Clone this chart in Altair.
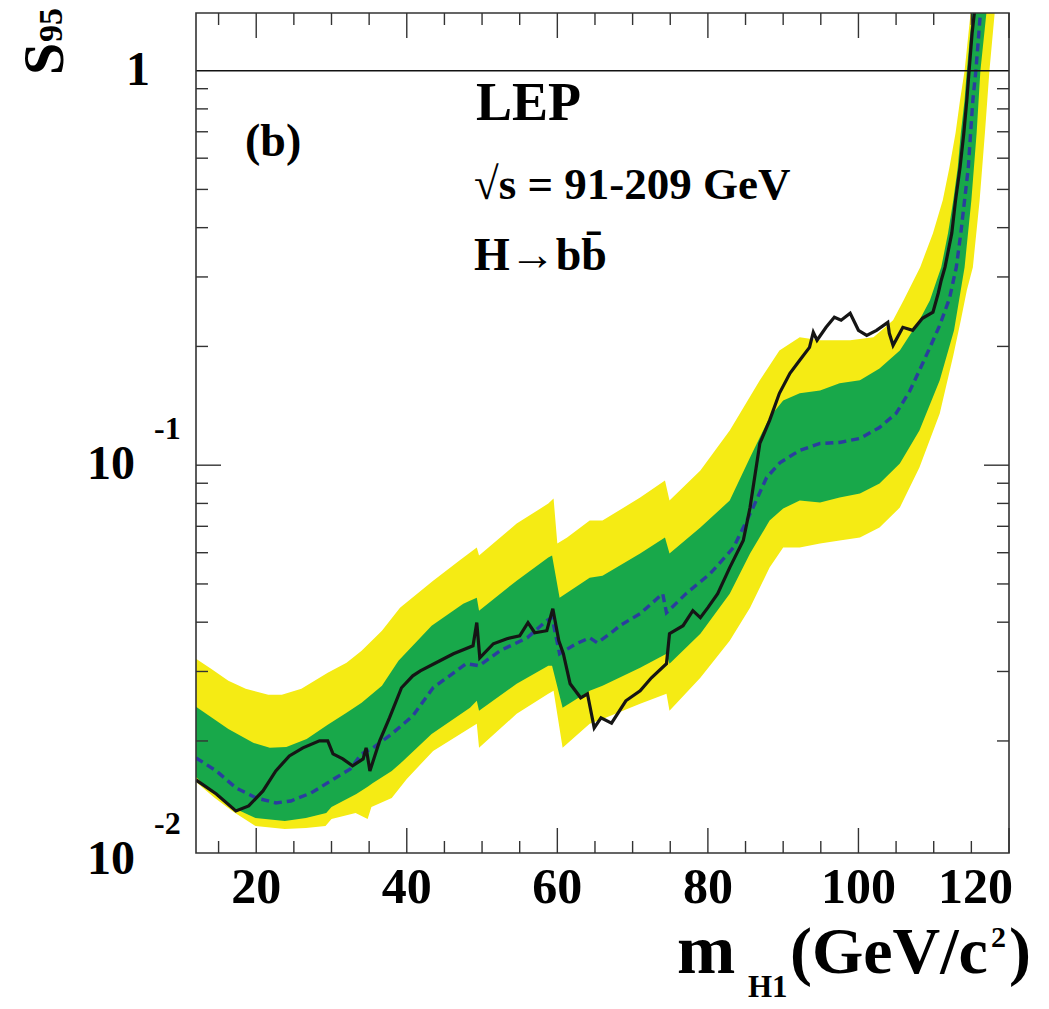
import altair as alt
import pandas as pd

# ---------------- data ----------------
# observed limit (black line)
obs_m = [12.0, 14.7, 17.3, 19.0, 20.9, 22.6, 24.4, 26.2, 28.4, 29.5, 30.2, 31.5, 32.8, 34.2, 34.6, 35.1,
         36.4, 37.7, 39.3, 40.8, 41.8, 44.4, 46.2, 48.8, 49.3, 49.7, 51.5, 53.3, 55.0, 56.1, 57.0, 58.6,
         59.4, 60.2, 60.8, 61.7, 63.1, 64.0, 64.9, 65.8, 67.2, 69.1, 71.0, 72.5, 74.5, 74.9, 76.7, 78.0,
         79.0, 80.0, 81.3, 82.9, 84.7, 85.6, 86.9, 88.2, 89.5, 90.9, 92.2, 93.5, 94.0, 94.5, 95.7, 96.8,
         97.7, 98.9, 100.0, 101.1, 102.4, 103.9, 104.1, 104.6, 105.9, 107.2, 108.5, 109.9, 110.6, 111.0,
         111.5, 112.4, 112.9, 113.5, 114.0, 114.4, 114.7, 115.1, 115.4, 115.6]
obs_s = [0.01593, 0.01468, 0.01329, 0.01369, 0.01494, 0.01679, 0.01833, 0.01921, 0.02001, 0.02001,
         0.01855, 0.01801, 0.01729, 0.01801, 0.01921, 0.01679, 0.02001, 0.02288, 0.02728, 0.02925,
         0.03012, 0.03193, 0.03327, 0.03486, 0.0399, 0.0325, 0.03527, 0.03632, 0.03696, 0.0399, 0.03761,
         0.03806, 0.04328, 0.0359, 0.03327, 0.02792, 0.02573, 0.02634, 0.02159, 0.02288, 0.0222, 0.02528,
         0.0268, 0.02892, 0.0314, 0.03739, 0.03919, 0.04278, 0.04107, 0.04354, 0.04725, 0.055, 0.0644,
         0.07808, 0.1135, 0.1299, 0.1521, 0.1709, 0.1844, 0.1989, 0.2172, 0.2073, 0.2236, 0.2371, 0.2330,
         0.2427, 0.2197, 0.2134, 0.2197, 0.2302, 0.2159, 0.2013, 0.2236, 0.2197, 0.2357, 0.2442, 0.2728,
         0.2943, 0.3176, 0.3874, 0.4696, 0.5695, 0.6948, 0.8425, 1.0, 1.246, 1.401, 1.6]

# expected median (blue dashed)
med_m = [12.0, 14.7, 17.3, 20.0, 22.6, 24.6, 27.3, 29.9, 32.5, 34.0, 35.5, 38.0, 40.8, 43.5, 47.9, 49.6,
         52.4, 56.0, 58.6, 59.3, 60.3, 62.5, 64.3, 65.3, 67.0, 68.3, 71.0, 74.0, 74.5, 77.1, 80.3, 83.4,
         86.0, 87.8, 89.6, 92.2, 94.9, 97.5, 100.2, 102.8, 105.0, 106.8, 108.1, 109.5, 110.8, 112.1,
         113.0, 113.6, 114.1, 114.6, 114.9, 115.2, 115.6, 116.0, 116.2, 116.4]
med_s = [0.01812, 0.01679, 0.01521, 0.01434, 0.01393, 0.01409, 0.01477, 0.01584, 0.01699, 0.01855,
         0.01921, 0.02084, 0.02315, 0.02728, 0.0314, 0.03102, 0.03386, 0.03653, 0.04035, 0.04107, 0.03327,
         0.03527, 0.03653, 0.03548, 0.03739, 0.03919, 0.04204, 0.04725, 0.04228, 0.04725, 0.0531, 0.06181,
         0.07808, 0.09307, 0.1016, 0.109, 0.1135, 0.1142, 0.1169, 0.1246, 0.1353, 0.1539, 0.1739, 0.1989,
         0.2262, 0.2649, 0.3176, 0.3874, 0.4696, 0.5695, 0.6948, 0.8425, 1.0, 1.246, 1.401, 1.6]

# upper edge of the yellow (2 sigma) band
yt_m = [12.0, 14.0, 16.3, 18.6, 21.6, 23.4, 26.0, 29.5, 32.0, 34.0, 36.7, 39.1, 43.5, 47.0, 49.3, 49.6,
        54.6, 58.8, 59.5, 60.0, 61.3, 64.3, 66.0, 71.0, 74.3, 74.9, 79.0, 82.9, 86.9, 89.5, 92.2, 94.9,
        98.9, 102.0, 104.6, 106.0, 108.2, 109.9, 111.2, 112.1, 112.9, 113.5, 114.1, 114.9, 115.1, 120.0]
yt_s = [0.03231, 0.03048, 0.02841, 0.02712, 0.02618, 0.02618, 0.02712, 0.02978, 0.03157, 0.03386,
        0.03806, 0.04354, 0.05098, 0.0573, 0.06181, 0.05899, 0.07112, 0.07993, 0.0823, 0.06327, 0.06553,
        0.07237, 0.07237, 0.08279, 0.09146, 0.08134, 0.09694, 0.1225, 0.1641, 0.1954, 0.2110, 0.2073,
        0.2073, 0.2110, 0.2330, 0.2618, 0.3176, 0.3874, 0.4696, 0.5695, 0.6948, 0.8425, 1.0, 1.401, 1.6, 1.6]

# upper edge of the green (1 sigma) band
gt_m = [12.0, 16.3, 19.6, 21.8, 24.0, 26.7, 29.5, 32.0, 34.0, 36.7, 38.9, 43.3, 47.5, 49.3, 49.6, 54.6,
        58.8, 59.3, 60.3, 64.3, 66.0, 71.0, 74.3, 74.9, 79.0, 82.9, 85.6, 88.2, 90.0, 92.2, 94.9, 97.5,
        100.2, 102.8, 105.5, 108.1, 109.5, 110.4, 111.0, 111.9, 112.6, 113.2, 113.6, 114.1, 114.4, 115.1,
        115.3, 120.0]
gt_s = [0.02441, 0.02146, 0.01978, 0.01921, 0.01932, 0.02024, 0.02197, 0.02357, 0.02499, 0.0276,
        0.03193, 0.03919, 0.04457, 0.04615, 0.04278, 0.05098, 0.05832, 0.05899, 0.04615, 0.05188, 0.05249,
        0.0597, 0.06553, 0.0597, 0.0695, 0.08134, 0.1046, 0.1322, 0.1459, 0.1521, 0.1547, 0.1612, 0.1641,
        0.1759, 0.1954, 0.2330, 0.2618, 0.2943, 0.3176, 0.3874, 0.4696, 0.5695, 0.6948, 0.8425, 1.0, 1.401,
        1.6, 1.6]

# lower edge of the green band
gb_m = [12.0, 14.0, 17.3, 19.9, 23.8, 26.6, 29.3, 30.0, 33.3, 34.8, 35.5, 38.0, 39.5, 43.3, 48.4, 49.3,
        49.6, 54.6, 58.8, 59.3, 60.7, 64.3, 66.0, 71.0, 74.5, 74.9, 79.0, 82.9, 85.6, 88.2, 90.0, 92.2,
        94.9, 97.5, 100.2, 102.8, 105.5, 108.1, 110.8, 112.7, 114.1, 115.0, 115.7, 116.2, 117.0, 117.2, 120.0]
gb_s = [0.01621, 0.01494, 0.01345, 0.01276, 0.01254, 0.01276, 0.01314, 0.01361, 0.01468, 0.0153,
        0.01565, 0.01679, 0.01778, 0.02084, 0.02427, 0.02528, 0.02384, 0.02792, 0.03102, 0.03102, 0.02427,
        0.0268, 0.0276, 0.03065, 0.03327, 0.0314, 0.03739, 0.04725, 0.0597, 0.07237, 0.07764, 0.08134,
        0.0804, 0.08279, 0.08477, 0.08987, 0.101, 0.1225, 0.1641, 0.2197, 0.3176, 0.4696, 0.6948, 1.0,
        1.401, 1.6, 1.6]

# lower edge of the yellow band
yb_m = [12.0, 14.5, 17.0, 19.9, 23.8, 26.6, 29.2, 30.0, 33.2, 34.8, 35.3, 38.0, 40.0, 43.5, 49.3, 49.6,
        54.6, 58.8, 59.5, 60.7, 64.3, 66.0, 71.0, 74.5, 74.9, 79.0, 82.9, 85.6, 88.2, 90.0, 92.2, 94.9,
        97.5, 100.2, 102.8, 105.5, 108.1, 110.8, 112.6, 113.6, 114.4, 115.2, 116.1, 116.8, 117.4, 118.1,
        118.3, 120.0]
yb_s = [0.01575, 0.01434, 0.01322, 0.01218, 0.01196, 0.01204, 0.01218, 0.01269, 0.01314, 0.01269,
        0.01361, 0.01434, 0.01602, 0.01887, 0.0221, 0.01921, 0.02343, 0.02634, 0.0268, 0.01921, 0.0221,
        0.02275, 0.02484, 0.02634, 0.02384, 0.02892, 0.0359, 0.04354, 0.055, 0.06181, 0.06181, 0.06327,
        0.0644, 0.06553, 0.0695, 0.07808, 0.09867, 0.1353, 0.1898, 0.2330, 0.2776, 0.3176, 0.4696, 0.6948,
        1.0, 1.401, 1.6, 1.6]

# axes: ticks and labels
x_major = [20, 40, 60, 80, 100, 120]
x_minor = [15, 25, 30, 35, 45, 50, 55, 65, 70, 75, 85, 90, 95, 105, 110, 115]
x_labels = ["20", "40", "60", "80", "100", "120"]
y_major = [0.1]
y_minor = [0.02, 0.03, 0.04, 0.05, 0.06, 0.07, 0.08, 0.09, 0.2, 0.3, 0.4, 0.5, 0.6, 0.7, 0.8, 0.9]
y_label_vals = [1.0, 0.1, 0.01]
y_label_mant = ["1", "10", "10"]
y_label_exp = ["", "-1", "-2"]

# ---------------- chart ----------------
W, H = 813, 840
Y_MIN, Y_MAX = 0.0104, 1.40
FONT = "Liberation Serif"
YELLOW = "#F5EB14"
GREEN = "#18A84A"
xs = alt.Scale(domain=[12, 120], nice=False, zero=False)
ys = alt.Scale(type="log", domain=[Y_MIN, Y_MAX], nice=False)
X = lambda: alt.X("m:Q", scale=xs, axis=None)
Y = lambda: alt.Y("s:Q", scale=ys, axis=None)


def df(m, s):
    return pd.DataFrame({"m": m, "s": s})


def under(m, s, color):
    d = df(m, s)
    d["b"] = Y_MIN
    return alt.Chart(d).mark_area(color=color, clip=True, opacity=1, orient="vertical").encode(
        x=X(), y=Y(), y2="b:Q")


layers = [
    under(yt_m, yt_s, YELLOW),
    under(gt_m, gt_s, GREEN),
    under(gb_m, gb_s, YELLOW),
    under(yb_m, yb_s, "white"),
    alt.Chart(df(med_m, med_s)).mark_line(color="#2B3D9E", strokeWidth=3.4, strokeDash=[8, 5], clip=True)
    .encode(x=X(), y=Y()),
    alt.Chart(df(obs_m, obs_s)).mark_line(color="#151515", strokeWidth=3.2, clip=True)
    .encode(x=X(), y=Y()),
    alt.Chart(pd.DataFrame({"s": [1.0]})).mark_rule(color="#111", strokeWidth=1.5)
    .encode(y=Y(), x=alt.value(0), x2=alt.value(W)),
]

# ticks inside the frame on all four sides
for vals, L in [(x_major, 25), (x_minor, 12)]:
    d = pd.DataFrame({"m": vals})
    base = alt.Chart(d).mark_rule(color="#333", strokeWidth=1.4)
    layers.append(base.encode(x=X(), y=alt.value(H), y2=alt.value(H - L)))
    layers.append(base.encode(x=X(), y=alt.value(0), y2=alt.value(L)))
for vals, L in [(y_major, 25), (y_minor, 12)]:
    d = pd.DataFrame({"s": vals})
    base = alt.Chart(d).mark_rule(color="#333", strokeWidth=1.4)
    layers.append(base.encode(y=Y(), x=alt.value(0), x2=alt.value(L)))
    layers.append(base.encode(y=Y(), x=alt.value(W), x2=alt.value(W - L)))

# frame
layers.append(alt.Chart(pd.DataFrame({"k": [0]})).mark_rect(filled=False, stroke="#333", strokeWidth=1.6)
              .encode(x=alt.value(0), x2=alt.value(W), y=alt.value(0), y2=alt.value(H)))

# x tick labels
xl = pd.DataFrame({"m": x_major, "t": x_labels})
xbase = alt.Chart(xl)
layers.append(xbase.transform_filter("datum.m < 120").mark_text(
    font=FONT, fontWeight="bold", fontSize=50, baseline="alphabetic", align="center")
    .encode(x=X(), y=alt.value(890), text="t:N"))
layers.append(xbase.transform_filter("datum.m == 120").mark_text(
    font=FONT, fontWeight="bold", fontSize=50, baseline="alphabetic", align="right", dx=4)
    .encode(x=X(), y=alt.value(890), text="t:N"))

# y tick labels (10 with exponent)
yl = pd.DataFrame({"s": y_label_vals, "t": y_label_mant, "e": y_label_exp})
ybase = alt.Chart(yl)
layers.append(ybase.transform_filter("datum.s == 1").mark_text(
    font=FONT, fontWeight="bold", fontSize=48, align="right", baseline="middle")
    .encode(y=Y(), x=alt.value(-46), text="t:N"))
layers.append(ybase.transform_filter("datum.s < 1").mark_text(
    font=FONT, fontWeight="bold", fontSize=48, align="right", baseline="middle")
    .encode(y=Y(), x=alt.value(-61), text="t:N"))
layers.append(ybase.transform_filter("datum.s < 1").mark_text(
    font=FONT, fontWeight="bold", fontSize=32, align="left", baseline="middle", dy=-36)
    .encode(y=Y(), x=alt.value(-42), text="e:N"))


def txt(t, x, y, size, **kw):
    return alt.Chart(pd.DataFrame({"t": [t]})).mark_text(
        font=FONT, fontWeight="bold", fontSize=size, baseline="alphabetic", align="left", **kw
    ).encode(x=alt.value(x), y=alt.value(y), text="t:N")


# annotations
layers += [
    txt("(b)", 49, 143, 46),
    txt("LEP", 280, 107, 54),
    txt("\u221as = 91-209 GeV", 278, 186, 45),
    txt("H\u2192bb\u0304", 278, 257, 46),
]

# axis titles
layers += [
    txt("m", 481, 960, 70),
    txt("H1", 552, 984, 31),
    txt("(GeV/c", 594, 960, 66),
    txt("2", 795, 934, 30),
    txt(")", 813, 960, 66),
    txt("S", -133, 62, 58, angle=270),
    txt("95", -134, 29, 34, angle=270),
]

chart = alt.layer(*layers).properties(
    width=W, height=H,
    autosize=alt.AutoSizeParams(type="none"),
    padding={"left": 188, "top": 5, "right": 30, "bottom": 155},
).configure_view(stroke=None)

chart.save("out.html", embed_options={"renderer": "svg", "actions": False})
